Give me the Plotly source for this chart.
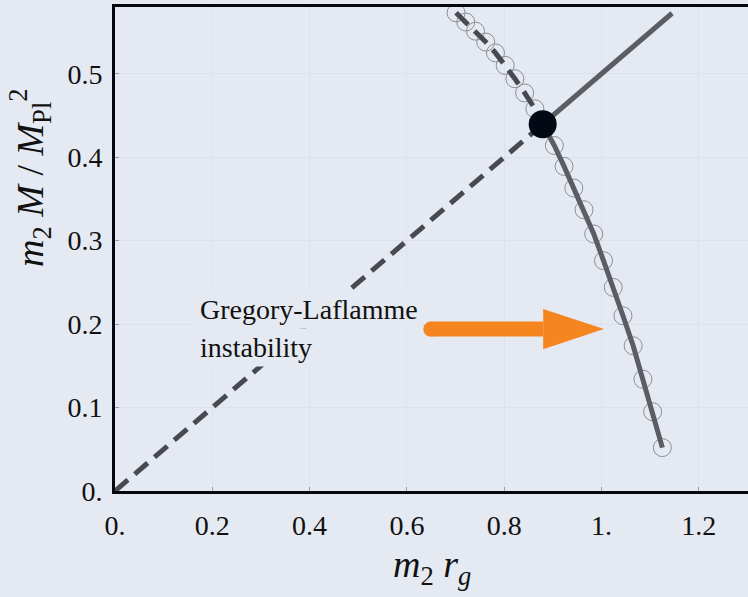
import plotly.graph_objects as go

# ---- data ----
line_x = [0.0, 0.879, 1.145]          # straight branch (dashed up to the black point, then solid)
line_y = [0.0, 0.4395, 0.5725]

upper_x = [0.701, 0.721, 0.741, 0.762, 0.782, 0.802, 0.822, 0.842, 0.863]
upper_y = [0.573, 0.562, 0.551, 0.538, 0.525, 0.510, 0.494, 0.477, 0.458]
hidden_x = [0.883]
hidden_y = [0.434]
lower_x = [0.903, 0.923, 0.943, 0.964, 0.984, 1.004, 1.024, 1.044, 1.065, 1.085, 1.105, 1.125]
lower_y = [0.414, 0.389, 0.363, 0.337, 0.308, 0.276, 0.244, 0.210, 0.174, 0.134, 0.095, 0.052]

crit_x = [0.879]
crit_y = [0.4395]

arrow_tail = (0.649, 0.194)
arrow_base = (0.880, 0.194)
arrow_head_x = [0.880, 1.005, 0.880, 0.880]
arrow_head_y = [0.218, 0.194, 0.170, 0.218]

x_ticks = [0, 0.2, 0.4, 0.6, 0.8, 1.0, 1.2]
x_ticktext = ["0.", "0.2", "0.4", "0.6", "0.8", "1.", "1.2"]
y_ticks = [0, 0.1, 0.2, 0.3, 0.4, 0.5]
y_ticktext = ["0.", "0.1", "0.2", "0.3", "0.4", "0.5"]

BG = "#E5E9F1"
DASH_C = "#474a51"
SOLID_C = "#5a5d63"
ORANGE = "#F5851F"
FONT = "Liberation Serif"

fig = go.Figure()

# circles (open markers) along the curve
fig.add_trace(go.Scatter(x=upper_x + hidden_x + lower_x, y=upper_y + hidden_y + lower_y,
                         mode="markers",
                         marker=dict(symbol="circle-open", size=18, color="#8c8f95",
                                     line=dict(width=1, color="#8c8f95")),
                         showlegend=False, hoverinfo="skip"))

# straight branch
fig.add_trace(go.Scatter(x=line_x[:2], y=line_y[:2], mode="lines",
                         line=dict(color=DASH_C, width=5, dash="17px,9px"),
                         showlegend=False, hoverinfo="skip"))
fig.add_trace(go.Scatter(x=line_x[1:], y=line_y[1:], mode="lines",
                         line=dict(color=SOLID_C, width=5),
                         showlegend=False, hoverinfo="skip"))

# curved branch
fig.add_trace(go.Scatter(x=upper_x + crit_x, y=upper_y + crit_y, mode="lines",
                         line=dict(color=DASH_C, width=5, dash="17px,9px"),
                         showlegend=False, hoverinfo="skip"))
fig.add_trace(go.Scatter(x=crit_x + lower_x, y=crit_y + lower_y, mode="lines",
                         line=dict(color=SOLID_C, width=5),
                         showlegend=False, hoverinfo="skip"))

# critical point
fig.add_trace(go.Scatter(x=crit_x, y=crit_y, mode="markers",
                         marker=dict(size=28, color="#020814"),
                         showlegend=False, hoverinfo="skip"))

annotations = [
    dict(text="Gregory-Laflamme", x=0.1665, y=0.218, xref="x", yref="y",
         xanchor="left", yanchor="middle", showarrow=False,
         bgcolor=BG, borderpad=3,
         font=dict(family=FONT, size=28, color="#111")),
    dict(text="instability", x=0.1665, y=0.1715, xref="x", yref="y",
         xanchor="left", yanchor="middle", showarrow=False,
         bgcolor=BG, borderpad=3,
         font=dict(family=FONT, size=28, color="#111")),
    dict(text="<i>m</i><sub>2</sub> <i>r</i><sub><i>g</i></sub>",
         x=0.5, y=-0.158, xref="paper", yref="paper",
         xanchor="center", yanchor="middle", showarrow=False,
         font=dict(family=FONT, size=38, color="#111")),
    dict(text="<i>m</i><sub>2</sub> <i>M</i> / <i>M</i><sub>Pl</sub><sup>2</sup>",
         x=-0.134, y=0.647, xref="paper", yref="paper", textangle=-90,
         xanchor="center", yanchor="middle", showarrow=False,
         font=dict(family=FONT, size=38, color="#111")),
]

# orange arrow drawn as shapes above the annotation boxes' layer
shapes = [
    dict(type="line", xref="x", yref="y",
         x0=arrow_tail[0], y0=arrow_tail[1], x1=arrow_base[0], y1=arrow_base[1],
         line=dict(color=ORANGE, width=15), layer="above"),
]

fig.add_trace(go.Scatter(x=[arrow_tail[0]], y=[arrow_tail[1]], mode="markers",
                         marker=dict(size=15, color=ORANGE),
                         showlegend=False, hoverinfo="skip"))
fig.add_trace(go.Scatter(x=arrow_head_x, y=arrow_head_y, mode="lines", fill="toself",
                         fillcolor=ORANGE, line=dict(color=ORANGE, width=0),
                         showlegend=False, hoverinfo="skip"))

fig.update_layout(
    width=748, height=597,
    margin=dict(l=115, r=0, t=7, b=106),
    paper_bgcolor=BG, plot_bgcolor=BG,
    annotations=annotations, shapes=shapes,
    font=dict(family=FONT, color="#111"),
)
fig.update_xaxes(range=[0, 1.301], tickvals=x_ticks, ticktext=x_ticktext,
                 tickfont=dict(family=FONT, size=28, color="#111"),
                 showgrid=True, gridcolor="#dde1ea", gridwidth=1, zeroline=False,
                 showline=True, linecolor="#05080f", linewidth=2.5, mirror=True,
                 ticks="inside", ticklen=4, tickcolor="#9a9da3", tickwidth=1,
                 ticklabelstandoff=8)
fig.update_yaxes(range=[0, 0.580], tickvals=y_ticks, ticktext=y_ticktext,
                 tickfont=dict(family=FONT, size=28, color="#111"),
                 showgrid=True, gridcolor="#dde1ea", gridwidth=1, zeroline=False,
                 showline=True, linecolor="#05080f", linewidth=3, mirror=False,
                 ticks="inside", ticklen=4, tickcolor="#9a9da3", tickwidth=1,
                 ticklabelstandoff=4)

fig.write_html("out.html")
